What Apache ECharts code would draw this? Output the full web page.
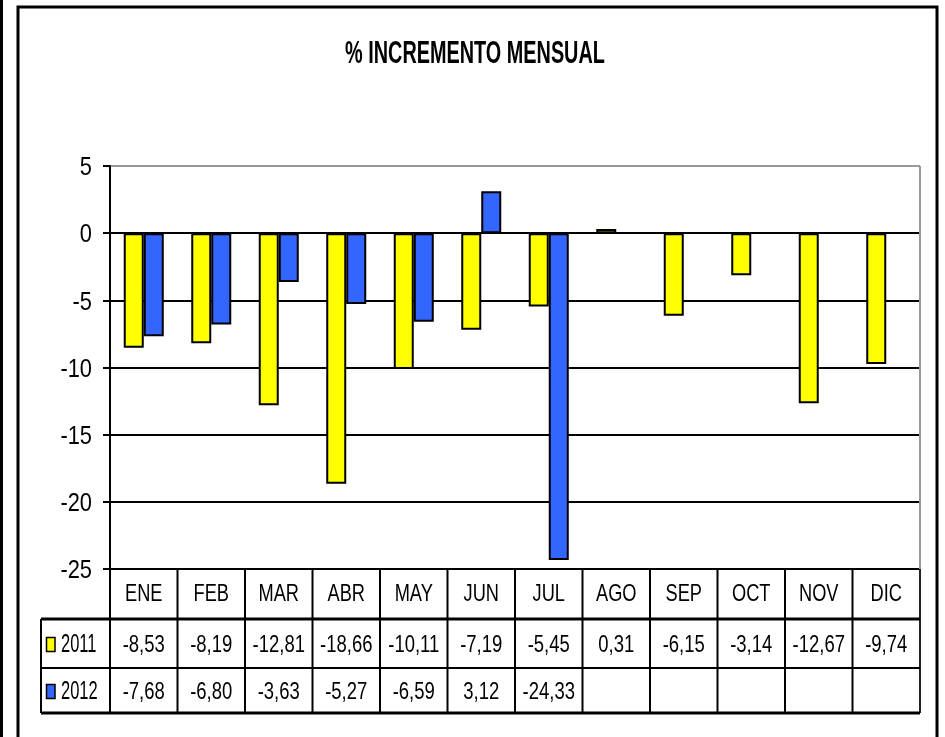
<!DOCTYPE html>
<html>
<head>
<meta charset="utf-8">
<script src="https://cdn.jsdelivr.net/npm/echarts@6/dist/echarts.min.js"></script>
<style>
html,body{margin:0;padding:0;background:#fff;}
#c{width:945px;height:737px;}
</style>
</head>
<body>
<div id="c"></div>
<script>
var categories = ['ENE','FEB','MAR','ABR','MAY','JUN','JUL','AGO','SEP','OCT','NOV','DIC'];
var values2011 = [-8.53,-8.19,-12.81,-18.66,-10.11,-7.19,-5.45,0.31,-6.15,-3.14,-12.67,-9.74];
var values2012 = [-7.68,-6.80,-3.63,-5.27,-6.59,3.12,-24.33,null,null,null,null,null];
var seriesNames = ['2011','2012'];
var yTickLabels = [5,0,-5,-10,-15,-20,-25];
var yTicks = {min:-25, max:5, interval:5};
var titleText = '% INCREMENTO MENSUAL';

var FONT = '"Liberation Sans", Arial, sans-serif';
var YELLOW = '#FFFF00', BLUE = '#3366FF';

function fmt(v){ return v == null ? '' : v.toFixed(2).replace('.', ','); }

var chart = echarts.init(document.getElementById('c'), null, {renderer:'canvas'});
var option = {
  animation:false,
  backgroundColor:'#fff',
  grid:{left:110, right:25, top:166, bottom:168, containLabel:false},
  xAxis:[{
    type:'category', data:categories, position:'bottom',
    axisLine:{onZero:false, lineStyle:{color:'#000', width:2}},
    axisTick:{show:false},
    axisLabel:{show:false},
    splitLine:{show:false}
  }],
  yAxis:{
    type:'value', min:yTicks.min, max:yTicks.max, interval:yTicks.interval,
    axisLine:{show:true, lineStyle:{color:'#000', width:2}},
    axisTick:{show:true, inside:false, length:7, lineStyle:{color:'#000', width:2}},
    axisLabel:{show:false},
    splitLine:{show:true, lineStyle:{color:['#000','#000','#000','#000','#000','#000','#999'], width:2}}
  },
  series:[
    {name:seriesNames[0], type:'bar', data:values2011, barWidth:20, barGap:'0%',
     itemStyle:{color:YELLOW, borderColor:'#000', borderWidth:2}},
    {name:seriesNames[1], type:'bar', data:values2012, barWidth:20, barGap:'0%',
     itemStyle:{color:BLUE, borderColor:'#000', borderWidth:2}}
  ]
};
chart.setOption(option);

var c0 = chart.convertToPixel({xAxisIndex:0}, 0);
var c1 = chart.convertToPixel({xAxisIndex:0}, 1);
var band = c1 - c0;
var xLeft = c0 - band/2;
var xRight = xLeft + band*categories.length;
var yTop = chart.convertToPixel({yAxisIndex:0}, yTicks.min);
var yPlotTop = chart.convertToPixel({yAxisIndex:0}, yTicks.max);
var headerH = 50, rowH = [49, 45];
var r1 = yTop + headerH, r2 = r1 + rowH[0], r3 = r2 + rowH[1];
var legLeft = 41;

var g = [];
function line(x1,y1,x2,y2,w,col){ g.push({type:'line', shape:{x1:x1,y1:y1,x2:x2,y2:y2}, style:{stroke:col||'#000', lineWidth:w||2}, z:50}); }
function txt(x,y,t,align,size,sx,bold){
  g.push({type:'text', x:x, y:y, scaleX:sx||1, scaleY:1,
    style:{text:t, fill:'#000', font:(bold?'bold ':'')+size+'px '+FONT, textAlign:align||'center', textVerticalAlign:'middle'}, z:51});
}

// title
txt(475, 54, titleText, 'center', 31, 0.64, true);
// y axis labels
for (var t=0;t<yTickLabels.length;t++){
  var py = chart.convertToPixel({yAxisIndex:0}, yTickLabels[t]);
  txt(92, py+2, String(yTickLabels[t]), 'right', 26, 0.84);
}
// outer frame
g.push({type:'rect', shape:{x:18, y:7, width:919, height:740}, style:{fill:null, stroke:'#000', lineWidth:3}, z:60});
line(1.5,0,1.5,737,3);
// plot right border (gray)
line(xRight, yPlotTop, xRight, yTop, 2, '#999');
// table
line(xLeft, yTop, xLeft, r3, 2);
line(xRight, yTop, xRight, r3, 2, '#222');
line(legLeft, r1, xRight, r1, 3);
line(legLeft, r2, xRight, r2, 2);
line(legLeft, r3, xRight, r3, 3);
line(legLeft, r1, legLeft, r3, 2);
for (var i=1;i<categories.length;i++){
  var x = xLeft + band*i;
  line(x, yTop, x, r3, 2);
}
for (var k=0;k<categories.length;k++){
  var hx = chart.convertToPixel({xAxisIndex:0}, k);
  txt(hx, yTop + 25, categories[k], 'center', 24, 0.76);
}
var rowsVals = [values2011, values2012];
var rowsCol = [YELLOW, BLUE];
var rowTop = [r1, r2];
for (var r=0;r<2;r++){
  var cy = rowTop[r] + rowH[r]/2;
  g.push({type:'rect', shape:{x:46.5, y:cy-6, width:8.5, height:14}, style:{fill:rowsCol[r], stroke:'#000', lineWidth:1.5}, z:52});
  txt(61, cy+2, seriesNames[r], 'left', 25, 0.66);
  for (var k2=0;k2<categories.length;k2++){
    var cx = chart.convertToPixel({xAxisIndex:0}, k2);
    txt(cx, cy+2, fmt(rowsVals[r][k2]), 'center', 24, 0.77);
  }
}
chart.setOption({graphic:{elements:g}});
</script>
</body>
</html>
